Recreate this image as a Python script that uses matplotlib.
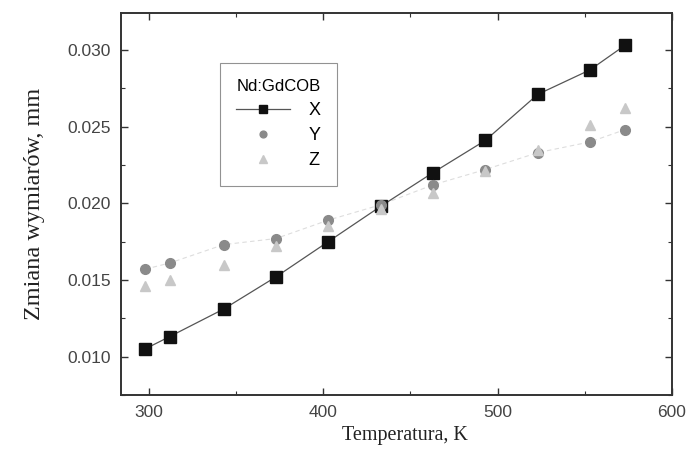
import matplotlib.pyplot as plt
from matplotlib.ticker import MultipleLocator

temps = [298, 312, 343, 373, 403, 433, 463, 493, 523, 553, 573]
dx = [0.0105, 0.0113, 0.0131, 0.0152, 0.0175, 0.0198, 0.0220, 0.0241, 0.0271, 0.0287, 0.0303]
dy = [0.0157, 0.0161, 0.0173, 0.0177, 0.0189, 0.0199, 0.0212, 0.0222, 0.0233, 0.0240, 0.0248]
dz = [0.0146, 0.0150, 0.0160, 0.0172, 0.0185, 0.0196, 0.0207, 0.0221, 0.0235, 0.0251, 0.0262]

fig = plt.figure(figsize=(6.9, 4.69), dpi=100)
ax = fig.add_axes([0.175, 0.158, 0.799, 0.814])

ax.plot(temps, dy, color="#dddddd", lw=0.8, ls=(0, (4, 3)), zorder=1)
ax.plot(temps, dx, color="#555555", lw=0.9, marker="s", ms=8,
        mfc="#111111", mec="#111111", label="X", zorder=2)
ax.plot(temps, dy, ls="none", marker="o", ms=7, mfc="#8a8a8a", mec="#8a8a8a",
        label="Y", zorder=3)
ax.plot(temps, dz, ls="none", marker="^", ms=7.5, mfc="#c8c8c8", mec="#c8c8c8",
        label="Z", zorder=4)

ax.set_xlim(284, 600)
ax.set_ylim(0.0075, 0.0324)
ax.xaxis.set_major_locator(MultipleLocator(100))
ax.xaxis.set_minor_locator(MultipleLocator(50))
ax.yaxis.set_major_locator(MultipleLocator(0.005))
ax.yaxis.set_minor_locator(MultipleLocator(0.0025))
ax.yaxis.set_major_formatter(plt.FormatStrFormatter("%.3f"))
ax.tick_params(which="both", direction="in", top=True, right=True, color="#333333")
ax.tick_params(which="major", length=5, width=1, labelsize=12.5, labelcolor="#444444", pad=7)
ax.tick_params(which="minor", length=3, width=0.8)
for lab in ax.get_xticklabels() + ax.get_yticklabels():
    lab.set_family("Liberation Sans")
for s in ax.spines.values():
    s.set_linewidth(1.4)
    s.set_color("#333333")

ax.set_xlabel("Temperatura, K", family="Liberation Serif", fontsize=14.5,
              color="#222222")
ax.xaxis.set_label_coords(0.515, -0.082)
ax.set_ylabel("Zmiana wymiarów, mm", family="Liberation Serif", fontsize=17.5,
              color="#222222", labelpad=16)

leg = ax.legend(title="Nd:GdCOB", loc="upper left", bbox_to_anchor=(0.18, 0.87),
                frameon=True, fancybox=False, edgecolor="#777777",
                prop={"family": "Liberation Sans", "size": 13},
                title_fontproperties={"family": "Liberation Sans", "size": 12},
                markerscale=0.7, handlelength=3.0, handletextpad=1.0,
                borderpad=0.9, labelspacing=0.45, borderaxespad=0)
leg.get_frame().set_linewidth(0.8)

fig.savefig("out.png")
